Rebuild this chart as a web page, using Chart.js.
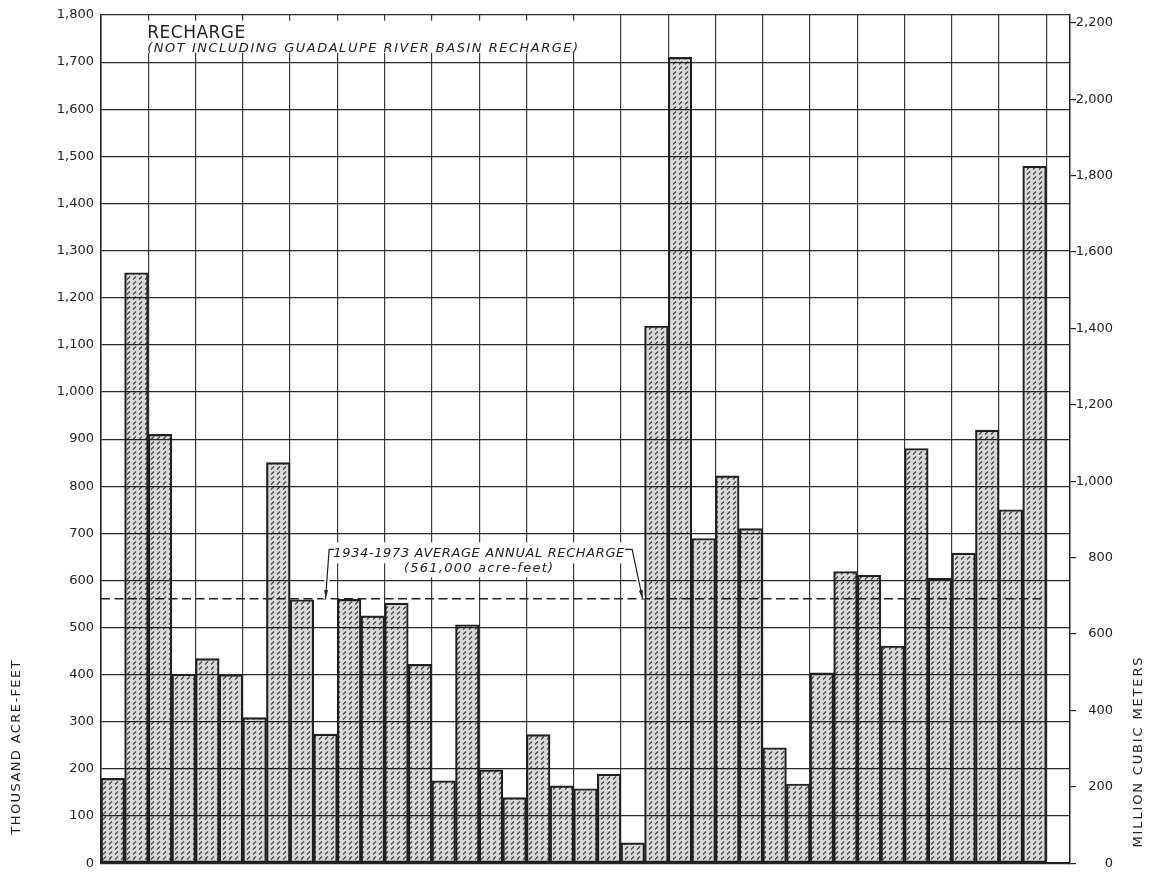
<!DOCTYPE html>
<html>
<head>
<meta charset="utf-8">
<script src="https://cdn.jsdelivr.net/npm/chart.js@4.4.0/dist/chart.umd.min.js"></script>
<style>
  html, body { margin: 0; padding: 0; background: #fff; }
</style>
</head>
<body>
<canvas id="myChart" width="1152" height="878"></canvas>
<script>
// one slot per year, plus an empty slot at the right end of the frame
const years = ['1934', '1935', '1936', '1937', '1938', '1939', '1940', '1941', '1942', '1943',
  '1944', '1945', '1946', '1947', '1948', '1949', '1950', '1951', '1952', '1953',
  '1954', '1955', '1956', '1957', '1958', '1959', '1960', '1961', '1962', '1963',
  '1964', '1965', '1966', '1967', '1968', '1969', '1970', '1971', '1972', '1973', ''];

// thousand acre-feet
const recharge = [180, 1253, 910, 401, 434, 400, 309, 850, 559, 274,
  560, 525, 552, 422, 175, 506, 198, 139, 273, 164,
  158, 189, 43, 1140, 1710, 689, 822, 710, 245, 168,
  404, 619, 611, 461, 880, 605, 658, 919, 750, 1479, null];

const avgRecharge = 561;
const leftMax = 1800;
const mcmPerKaf = 1.23348;
const rightTicks = [0, 200, 400, 600, 800, 1000, 1200, 1400, 1600, 1800, 2000, 2200];

const titleText = 'RECHARGE';
const subtitleText = '(NOT INCLUDING GUADALUPE RIVER BASIN RECHARGE)';
const avgText = '1934-1973 AVERAGE ANNUAL RECHARGE';
const avgSubText = '(561,000 acre-feet)';
const leftTitle = 'THOUSAND ACRE-FEET';
const rightTitle = 'MILLION CUBIC METERS';

Chart.defaults.font.family = '"DejaVu Sans", sans-serif';
Chart.defaults.font.size = 13;
Chart.defaults.color = '#222';

// hatch screen for the bars, see-through so the grid shows
function makeHatch() {
  const c = document.createElement('canvas');
  c.width = 6;
  c.height = 5;
  const g = c.getContext('2d');
  g.fillStyle = 'rgba(0,0,0,0.15)';
  g.fillRect(0, 0, 6, 5);
  g.strokeStyle = 'rgba(20,20,20,0.8)';
  g.lineWidth = 1.1;
  g.beginPath();
  g.moveTo(1, 4.5);
  g.lineTo(4, 1.5);
  g.stroke();
  return g.createPattern(c, 'repeat');
}

function fitText(ctx, text, width) {
  ctx.letterSpacing = '0px';
  const w = ctx.measureText(text).width;
  const ls = (width - w) / (text.length - 1);
  ctx.letterSpacing = ls.toFixed(2) + 'px';
}

function arrow(ctx, pts) {
  const path = () => {
    ctx.beginPath();
    ctx.moveTo(pts[0][0], pts[0][1]);
    for (let i = 1; i < pts.length; i++) ctx.lineTo(pts[i][0], pts[i][1]);
    ctx.stroke();
  };
  ctx.save();
  ctx.strokeStyle = '#fff';
  ctx.lineWidth = 5;
  path();
  ctx.strokeStyle = '#222';
  ctx.lineWidth = 1.2;
  path();
  // head
  const [x1, y1] = pts[pts.length - 2];
  const [x2, y2] = pts[pts.length - 1];
  const a = Math.atan2(y2 - y1, x2 - x1);
  ctx.fillStyle = '#222';
  ctx.beginPath();
  ctx.moveTo(x2, y2);
  ctx.lineTo(x2 - 9 * Math.cos(a - 0.22), y2 - 9 * Math.sin(a - 0.22));
  ctx.lineTo(x2 - 9 * Math.cos(a + 0.22), y2 - 9 * Math.sin(a + 0.22));
  ctx.closePath();
  ctx.fill();
  ctx.restore();
}

const avgLine = {
  id: 'avgLine',
  afterDatasetsDraw(chart) {
    const { ctx, chartArea, scales } = chart;
    const x = scales.x, y = scales.y;
    const half = (x.getPixelForValue(1) - x.getPixelForValue(0)) / 2;
    const yy = y.getPixelForValue(avgRecharge);
    ctx.save();
    ctx.strokeStyle = '#222';
    ctx.lineWidth = 1.5;
    ctx.setLineDash([9, 4.5]);
    ctx.beginPath();
    ctx.moveTo(chartArea.left, yy);
    ctx.lineTo(x.getPixelForValue(years.length - 2) + half, yy);
    ctx.stroke();
    ctx.restore();
  }
};

const notes = {
  id: 'notes',
  afterDraw(chart) {
    const { ctx, chartArea, scales } = chart;
    const x = scales.x, y = scales.y;
    const half = (x.getPixelForValue(1) - x.getPixelForValue(0)) / 2;
    const edge = i => x.getPixelForValue(i) - half;
    ctx.save();

    // title block with white ground
    ctx.fillStyle = '#fff';
    ctx.fillRect(chartArea.left + 2, y.getPixelForValue(1788), edge(21) - chartArea.left, y.getPixelForValue(1720) - y.getPixelForValue(1788));
    ctx.fillStyle = '#222';
    ctx.textAlign = 'left';
    ctx.textBaseline = 'alphabetic';
    ctx.font = '17px "DejaVu Sans", sans-serif';
    fitText(ctx, titleText, 98);
    ctx.fillText(titleText, edge(2) - 1, y.getPixelForValue(1752));
    ctx.font = 'italic 13px "DejaVu Sans", sans-serif';
    fitText(ctx, subtitleText, 431);
    ctx.fillText(subtitleText, edge(2) - 1, y.getPixelForValue(1722));

    // average label
    const cx = edge(16);
    const b1 = y.getPixelForValue(649);
    const b2 = y.getPixelForValue(617);
    ctx.fillStyle = '#fff';
    ctx.fillRect(cx - 148, b1 - 15, 296, 21);
    ctx.fillRect(cx - 78, b1 + 4, 156, 16);
    ctx.font = 'italic 13px "DejaVu Sans", sans-serif';
    ctx.fillStyle = '#222';
    ctx.textAlign = 'center';
    fitText(ctx, avgText, 291);
    ctx.fillText(avgText, cx, b1);
    fitText(ctx, avgSubText, 149);
    ctx.fillText(avgSubText, cx, b2);

    const yy = y.getPixelForValue(avgRecharge);
    const top = b1 - 8;
    arrow(ctx, [[cx - 145, top], [cx - 150, top], [edge(9) + half, yy]]);
    arrow(ctx, [[cx + 146, top], [cx + 153, top], [edge(23) - 2, yy]]);

    // axis titles
    ctx.font = '13px "DejaVu Sans", sans-serif';
    ctx.textAlign = 'center';
    ctx.textBaseline = 'middle';
    ctx.save();
    ctx.translate(17, y.getPixelForValue(247));
    ctx.rotate(-Math.PI / 2);
    fitText(ctx, leftTitle, 174);
    ctx.fillText(leftTitle, 0, 0);
    ctx.restore();
    ctx.save();
    ctx.translate(1139, y.getPixelForValue(237));
    ctx.rotate(-Math.PI / 2);
    fitText(ctx, rightTitle, 190);
    ctx.fillText(rightTitle, 0, 0);
    ctx.restore();

    ctx.restore();
  }
};

const ctx = document.getElementById('myChart').getContext('2d');
const myChart = new Chart(ctx, {
  type: 'bar',
  data: {
    labels: years,
    datasets: [{
      label: 'Recharge',
      data: recharge,
      backgroundColor: makeHatch(),
      borderColor: '#222',
      borderWidth: 1.5,
      borderSkipped: false,
      categoryPercentage: 1,
      barPercentage: 1
    }]
  },
  options: {
    responsive: false,
    animation: false,
    devicePixelRatio: 1,
    layout: { padding: { top: 15, bottom: 11, left: 0, right: 39 } },
    plugins: {
      legend: { display: false },
      tooltip: { enabled: false }
    },
    scales: {
      x: {
        ticks: { display: false },
        grid: {
          drawTicks: false,
          color: c => (c.index !== undefined && c.index % 2 === 0) ? '#3a3a3a' : 'rgba(0,0,0,0)',
          lineWidth: 1.2
        },
        border: { display: true, color: '#222', width: 1.5 },
        afterFit: s => { s.height = 0; }
      },
      y: {
        position: 'left',
        min: 0,
        max: leftMax,
        ticks: {
          stepSize: 100,
          padding: 7,
          color: '#222',
          callback: v => v.toLocaleString('en-US')
        },
        grid: { color: '#2a2a2a', lineWidth: 1.2, drawTicks: false },
        border: { display: true, color: '#222', width: 1.5 },
        afterFit: s => { s.width = 101; }
      },
      y2: {
        position: 'right',
        min: 0,
        max: leftMax * mcmPerKaf,
        afterBuildTicks: s => { s.ticks = rightTicks.map(v => ({ value: v })); },
        ticks: {
          padding: 2,
          crossAlign: 'far',
          color: '#222',
          callback: v => v.toLocaleString('en-US')
        },
        grid: { drawOnChartArea: false, drawTicks: true, tickLength: 6, color: '#222', lineWidth: 1.2 },
        border: { display: true, color: '#222', width: 1.5 },
        afterFit: s => { s.width = 43; }
      }
    }
  },
  plugins: [avgLine, notes]
});
</script>
</body>
</html>
